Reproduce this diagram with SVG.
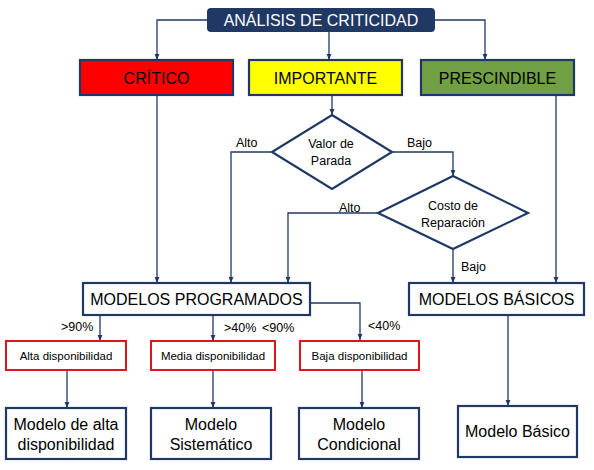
<svg xmlns="http://www.w3.org/2000/svg" width="594" height="470" viewBox="0 0 594 470">
<defs>
<marker id="ah" viewBox="0 0 10 10" refX="10" refY="5" markerWidth="6" markerHeight="6" orient="auto" markerUnits="userSpaceOnUse">
<path d="M0,1 L10,5 L0,9 z" fill="#1f3864"/>
</marker>
<style>
text{font-family:"Liberation Sans",Arial,sans-serif;fill:#000;text-anchor:middle}
.box{stroke:#1f3864;stroke-width:2.2}
.red{fill:#fff;stroke:#e0141c;stroke-width:2}
.lbl{font-size:12.5px;text-anchor:start}
.big{font-size:16px}
.sm{font-size:11.5px}
.dm{font-size:12.5px}
.c{fill:none;stroke:#1f3864;stroke-width:1.3}
.ca{fill:none;stroke:#1f3864;stroke-width:1.3;marker-end:url(#ah)}
</style>
</defs>
<rect width="594" height="470" fill="#fff"/>
<g id="connectors">
<path class="ca" d="M207,20 H157 V60"/>
<path class="ca" d="M329,32 V60"/>
<path class="ca" d="M435,20 H485 V60"/>
<path class="ca" d="M157,95 V283"/>
<path class="ca" d="M332,95 V115"/>
<path class="ca" d="M271,152 H231 V283"/>
<path class="ca" d="M391,152 H453 V176"/>
<path class="ca" d="M377,213 H288 V283"/>
<path class="ca" d="M453,249 V283"/>
<path class="ca" d="M556,95 V283"/>
<path class="ca" d="M310,303 H360 V340"/>
<path class="ca" d="M100,315 V341"/>
<path class="ca" d="M213,315 V341"/>
<path class="ca" d="M67,370 V408"/>
<path class="ca" d="M213,370 V408"/>
<path class="ca" d="M362,370 V408"/>
<path class="ca" d="M508,315 V406"/>
<text class="lbl" x="236" y="147">Alto</text>
<text class="lbl" x="407" y="147">Bajo</text>
<text class="lbl" x="339" y="212">Alto</text>
<text class="lbl" x="461" y="271">Bajo</text>
<text class="lbl" x="61" y="331">&gt;90%</text>
<text class="lbl" x="224" y="332">&gt;40%</text>
<text class="lbl" x="262" y="332">&lt;90%</text>
<text class="lbl" x="368" y="330">&lt;40%</text>
</g>
<g id="title">
<rect x="207" y="8" width="228" height="24" rx="4" fill="#1f3864"/>
<text x="321" y="26" font-size="16" style="fill:#fff">ANÁLISIS DE CRITICIDAD</text>
</g>
<g id="critico">
<rect class="box" x="80" y="60" width="153" height="35" fill="#ff0000"/>
<text class="big" x="156.5" y="83.5">CRÍTICO</text>
</g>
<g id="importante">
<rect class="box" x="249" y="60" width="153" height="35" fill="#ffff00"/>
<text class="big" x="325.5" y="83.5">IMPORTANTE</text>
</g>
<g id="prescindible">
<rect class="box" x="421" y="60" width="153" height="35" fill="#70a043"/>
<text class="big" x="497.5" y="83.5">PRESCINDIBLE</text>
</g>
<g id="valor">
<polygon class="box" points="332,115 392,152 332,189 272,152" fill="#fff"/>
<text class="dm" x="331" y="148">Valor de</text>
<text class="dm" x="331" y="164.5">Parada</text>
</g>
<g id="costo">
<polygon class="box" points="453,176 528,213 453,249 378,213" fill="#fff"/>
<text class="dm" x="453" y="210">Costo de</text>
<text class="dm" x="453" y="226.5">Reparación</text>
</g>
<g id="programados">
<rect class="box" x="83" y="283" width="227" height="32" fill="#fff"/>
<text class="big" x="196.5" y="305">MODELOS PROGRAMADOS</text>
</g>
<g id="basicos">
<rect class="box" x="409" y="283" width="175" height="32" fill="#fff"/>
<text class="big" x="496.5" y="305">MODELOS BÁSICOS</text>
</g>
<g id="alta">
<rect class="red" x="6" y="341" width="120" height="29"/>
<text class="sm" x="66" y="360">Alta disponibilidad</text>
</g>
<g id="media">
<rect class="red" x="151" y="341" width="124" height="29"/>
<text class="sm" x="213" y="360">Media disponibilidad</text>
</g>
<g id="baja">
<rect class="red" x="300" y="341" width="119" height="29"/>
<text class="sm" x="359.5" y="360">Baja disponibilidad</text>
</g>
<g id="m_alta">
<rect class="box" x="6" y="408" width="120" height="51" fill="#fff"/>
<text class="big" x="66" y="430">Modelo de alta</text>
<text class="big" x="66" y="450">disponibilidad</text>
</g>
<g id="m_sist">
<rect class="box" x="151" y="408" width="120" height="51" fill="#fff"/>
<text class="big" x="211" y="430">Modelo</text>
<text class="big" x="211" y="450">Sistemático</text>
</g>
<g id="m_cond">
<rect class="box" x="299" y="408" width="120" height="51" fill="#fff"/>
<text class="big" x="359" y="430">Modelo</text>
<text class="big" x="359" y="450">Condicional</text>
</g>
<g id="m_basico">
<rect class="box" x="458" y="406" width="119" height="51" fill="#fff"/>
<text class="big" x="517.5" y="437">Modelo Básico</text>
</g>
</svg>
